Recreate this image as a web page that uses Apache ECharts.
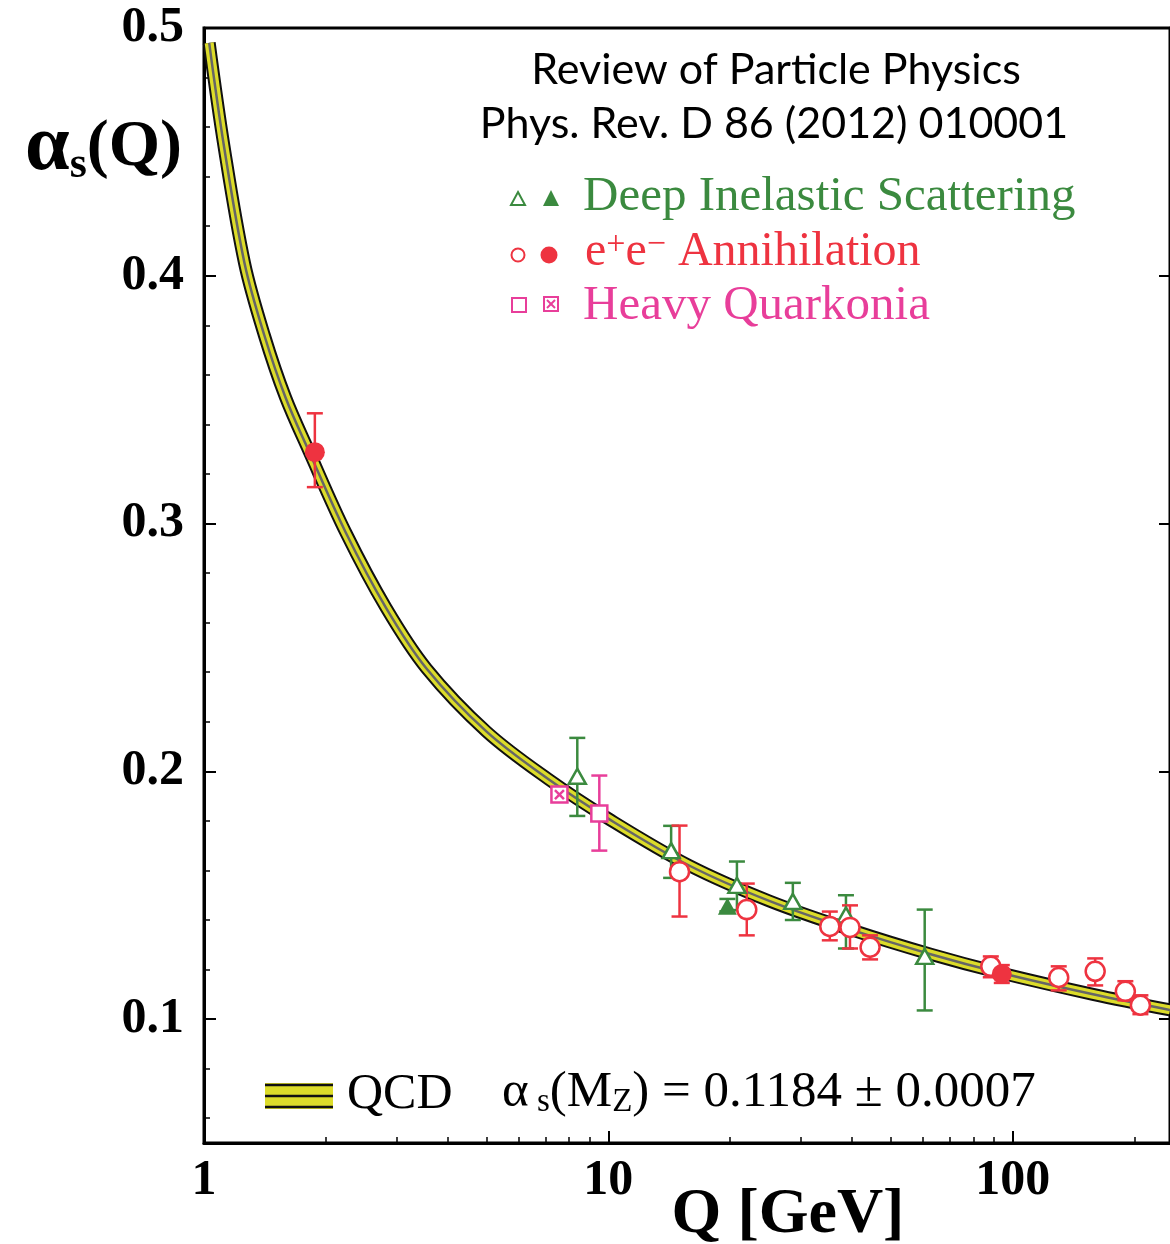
<!DOCTYPE html>
<html lang="en">
<head>
  <meta charset="UTF-8">
  <title>alpha_s running</title>
  <script src="https://cdn.jsdelivr.net/npm/echarts@6/dist/echarts.min.js"></script>
  <style>
    html, body { margin: 0; padding: 0; background: #fff; }
  </style>
</head>
<body>
  <div id="chart" style="width: 1170px; height: 1244px;"></div>
  <script>
    // QCD curve (centre of the band)
    var curveQ = [1.03, 1.12, 1.26, 1.41, 1.59, 1.82, 2.24, 2.82, 3.55, 5.0, 7.1, 10, 15.8, 25, 40, 63, 92, 158, 245];
    var curveAlpha = [0.494, 0.4525, 0.405, 0.376, 0.351, 0.329, 0.2965, 0.266, 0.2415, 0.216, 0.1969, 0.1809, 0.1621, 0.1477, 0.136, 0.1261, 0.1189, 0.110, 0.1037];

    // Deep inelastic scattering
    var disQ = [8.38, 14.3, 20.8, 28.6, 38.7, 60.6];
    var disAlpha = [0.198, 0.168, 0.154, 0.1475, 0.142, 0.1253];
    var disLow = [0.182, 0.157, 0.144, 0.140, 0.1285, 0.1035];
    var disHigh = [0.2135, 0.178, 0.1636, 0.155, 0.150, 0.1442];
    var disFullQ = [19.7];
    var disFullAlpha = [0.1455];
    var disFullLow = [0.1435];
    var disFullHigh = [0.1485];

    // e+e- annihilation
    var eeQ = [15.0, 22.0, 35.3, 39.6, 44.4, 88.3, 130, 160, 190, 207];
    var eeAlpha = [0.1595, 0.1442, 0.1374, 0.137, 0.129, 0.1213, 0.1168, 0.1193, 0.1112, 0.1056];
    var eeLow = [0.1414, 0.1338, 0.1318, 0.1285, 0.1241, 0.1169, 0.1116, 0.1136, 0.1076, 0.1020];
    var eeHigh = [0.1781, 0.1547, 0.1434, 0.1459, 0.1338, 0.1253, 0.1213, 0.1245, 0.1153, 0.1096];
    var eeFullQ = [1.88, 94];
    var eeFullAlpha = [0.3288, 0.1182];
    var eeFullLow = [0.3147, 0.1146];
    var eeFullHigh = [0.3445, 0.1218];

    // Heavy quarkonia
    var hqQ = [9.5];
    var hqAlpha = [0.183];
    var hqLow = [0.168];
    var hqHigh = [0.1983];
    var hqCrossQ = [7.57];
    var hqCrossAlpha = [0.1906];
    var hqCrossLow = [0.1881];
    var hqCrossHigh = [0.1931];

    // ticks
    var xMajorTicks = [1, 10, 100];
    var xMinorTicks = [2, 3, 4, 5, 6, 7, 8, 9, 20, 30, 40, 50, 60, 70, 80, 90, 200];
    var yMajorTicks = [0.1, 0.2, 0.3, 0.4, 0.5];
    var yMinorTicks = [0.06, 0.08, 0.12, 0.14, 0.16, 0.18, 0.22, 0.24, 0.26, 0.28,
                       0.32, 0.34, 0.36, 0.38, 0.42, 0.44, 0.46, 0.48];

    var GREEN = '#3b8a3f';
    var RED = '#ee3340';
    var PINK = '#e83e9a';
    var YELLOW = '#dcdc2a';
    var SERIF = '"Liberation Serif", "Times New Roman", serif';
    var SANS = 'Lato, "Open Sans", sans-serif';

    function pts(q, a) {
      return q.map(function (v, i) { return [v, a[i]]; });
    }
    function bars(q, lo, hi) {
      return q.map(function (v, i) { return [v, lo[i], hi[i]]; });
    }

    // vertical error bar with caps
    function errorBar(color) {
      return function (params, api) {
        var q = api.value(0);
        var lo = api.coord([q, api.value(1)]);
        var hi = api.coord([q, api.value(2)]);
        var half = 8;
        var style = { stroke: color, lineWidth: 2.5 };
        return {
          type: 'group',
          children: [
            { type: 'line', shape: { x1: lo[0], y1: lo[1], x2: hi[0], y2: hi[1] }, style: style },
            { type: 'line', shape: { x1: lo[0] - half, y1: lo[1], x2: lo[0] + half, y2: lo[1] }, style: style },
            { type: 'line', shape: { x1: hi[0] - half, y1: hi[1], x2: hi[0] + half, y2: hi[1] }, style: style }
          ]
        };
      };
    }

    function barSeries(q, lo, hi, color) {
      return {
        type: 'custom',
        renderItem: errorBar(color),
        encode: { x: 0, y: [1, 2] },
        data: bars(q, lo, hi),
        z: 3,
        silent: true
      };
    }

    function curveSeries(color, width, z) {
      return {
        type: 'line',
        data: pts(curveQ, curveAlpha),
        smooth: 0.35,
        showSymbol: false,
        symbol: 'none',
        lineStyle: { color: color, width: width, cap: 'butt', join: 'round' },
        z: z,
        silent: true
      };
    }

    var chart = echarts.init(document.getElementById('chart'));

    var option = {
      animation: false,
      backgroundColor: '#fff',
      grid: {
        left: 204, top: 28, width: 968, height: 1115,
        show: true, borderColor: '#000', borderWidth: 3,
        containLabel: false
      },
      xAxis: [
        {
          type: 'log', logBase: 10, min: 1, max: 245, position: 'bottom',
          axisLine: { lineStyle: { color: '#000', width: 3 } },
          axisTick: { customValues: xMajorTicks, inside: true, length: 12, lineStyle: { color: '#000', width: 2 } },
          axisLabel: {
            customValues: xMajorTicks, margin: 13,
            fontFamily: SERIF, fontWeight: 'bold', fontSize: 50, color: '#000'
          },
          splitLine: { show: false }
        },
        {
          type: 'log', logBase: 10, min: 1, max: 245, position: 'bottom',
          axisLine: { show: false },
          axisTick: { customValues: xMinorTicks, inside: true, length: 6, lineStyle: { color: '#000', width: 1.5 } },
          axisLabel: { show: false },
          splitLine: { show: false }
        }
      ],
      yAxis: [
        {
          type: 'value', min: 0.05, max: 0.5, position: 'left',
          axisLine: { lineStyle: { color: '#000', width: 3 } },
          axisTick: { customValues: yMajorTicks, inside: true, length: 12, lineStyle: { color: '#000', width: 2 } },
          axisLabel: {
            customValues: yMajorTicks, margin: 20,
            formatter: function (v) { return v.toFixed(1); },
            fontFamily: SERIF, fontWeight: 'bold', fontSize: 50, color: '#000'
          },
          splitLine: { show: false }
        },
        {
          type: 'value', min: 0.05, max: 0.5, position: 'left',
          axisLine: { show: false },
          axisTick: { customValues: yMinorTicks, inside: true, length: 6, lineStyle: { color: '#000', width: 1.5 } },
          axisLabel: { show: false },
          splitLine: { show: false }
        },
        {
          type: 'value', min: 0.05, max: 0.5, position: 'right',
          axisLine: { show: true, lineStyle: { color: '#000', width: 3 } },
          axisTick: { customValues: yMajorTicks, inside: true, length: 11, lineStyle: { color: '#000', width: 2 } },
          axisLabel: { show: false },
          splitLine: { show: false }
        }
      ],
      series: [
        curveSeries('#111', 13, 1),
        curveSeries(YELLOW, 9, 1),
        curveSeries('#666', 2.5, 1),

        barSeries(disQ, disLow, disHigh, GREEN),
        barSeries(disFullQ, disFullLow, disFullHigh, GREEN),
        barSeries(hqQ, hqLow, hqHigh, PINK),
        barSeries(hqCrossQ, hqCrossLow, hqCrossHigh, PINK),
        barSeries(eeQ, eeLow, eeHigh, RED),
        barSeries(eeFullQ, eeFullLow, eeFullHigh, RED),

        {
          type: 'scatter', data: pts(disQ, disAlpha), symbol: 'triangle', symbolSize: [17, 15],
          itemStyle: { color: '#fff', borderColor: GREEN, borderWidth: 2.5, opacity: 1 }, z: 4, silent: true
        },
        {
          type: 'scatter', data: pts(disFullQ, disFullAlpha), symbol: 'triangle', symbolSize: [19, 17],
          itemStyle: { color: GREEN, opacity: 1 }, z: 4, silent: true
        },
        {
          type: 'scatter', data: pts(hqQ, hqAlpha), symbol: 'rect', symbolSize: 16,
          itemStyle: { color: '#fff', borderColor: PINK, borderWidth: 2.5, opacity: 1 }, z: 4, silent: true
        },
        {
          type: 'scatter', data: pts(hqCrossQ, hqCrossAlpha), symbol: 'rect', symbolSize: 16,
          itemStyle: { color: '#fff', borderColor: PINK, borderWidth: 2.5, opacity: 1 }, z: 4, silent: true
        },
        {
          type: 'scatter', data: pts(hqCrossQ, hqCrossAlpha), symbol: 'path://M0 0L10 10M10 0L0 10', symbolSize: 9,
          itemStyle: { color: 'none', borderColor: PINK, borderWidth: 2.5, opacity: 1 }, z: 5, silent: true
        },
        {
          type: 'scatter', data: pts(eeQ, eeAlpha), symbol: 'circle', symbolSize: 19,
          itemStyle: { color: '#fff', borderColor: RED, borderWidth: 2.5, opacity: 1 }, z: 4, silent: true
        },
        {
          type: 'scatter', data: pts(eeFullQ, eeFullAlpha), symbol: 'circle', symbolSize: 20,
          itemStyle: { color: RED, opacity: 1 }, z: 4, silent: true
        }
      ],
      graphic: [
        // axis names
        {
          type: 'text', left: 25, top: 108, z: 10,
          style: {
            text: '{a|α}{s|s}{b|(Q)}',
            rich: {
              a: { fontFamily: SERIF, fontWeight: 'bold', fontSize: 80, fill: '#000' },
              s: { fontFamily: SERIF, fontWeight: 'bold', fontSize: 44, fill: '#000', verticalAlign: 'bottom' },
              b: { fontFamily: SERIF, fontWeight: 'bold', fontSize: 66, fill: '#000' }
            }
          }
        },
        {
          type: 'text', x: 788, y: 1215, z: 10,
          style: { text: 'Q [GeV]', font: 'bold 64px ' + SERIF, fill: '#000', align: 'center', verticalAlign: 'middle' }
        },
        // header
        {
          type: 'text', x: 776, y: 70, z: 10,
          style: { text: 'Review of Particle Physics', font: '43px ' + SANS, fill: '#000', align: 'center', verticalAlign: 'middle' }
        },
        {
          type: 'text', x: 774, y: 124, z: 10,
          style: { text: 'Phys. Rev. D 86 (2012) 010001', font: '43px ' + SANS, fill: '#000', align: 'center', verticalAlign: 'middle' }
        },
        // legend: DIS
        {
          type: 'polygon', z: 10,
          shape: { points: [[518, 192], [525, 205], [511, 205]] },
          style: { fill: '#fff', stroke: GREEN, lineWidth: 2 }
        },
        {
          type: 'polygon', z: 10,
          shape: { points: [[551, 190], [559, 206], [543, 206]] },
          style: { fill: GREEN }
        },
        {
          type: 'text', x: 583, y: 197, z: 10,
          style: { text: 'Deep Inelastic Scattering', font: '49px ' + SERIF, fill: GREEN, verticalAlign: 'middle' }
        },
        // legend: e+e-
        {
          type: 'circle', z: 10, shape: { cx: 518, cy: 255, r: 6.5 },
          style: { fill: '#fff', stroke: RED, lineWidth: 2 }
        },
        {
          type: 'circle', z: 10, shape: { cx: 549, cy: 255, r: 8.5 },
          style: { fill: RED }
        },
        {
          type: 'text', x: 585, y: 252, z: 10,
          style: {
            text: '{a|e}{p|+}{a|e}{p|−}{a| Annihilation}',
            verticalAlign: 'middle',
            rich: {
              a: { fontFamily: SERIF, fontSize: 48, fill: RED },
              p: { fontFamily: SERIF, fontSize: 34, fill: RED, verticalAlign: 'top' }
            }
          }
        },
        // legend: heavy quarkonia
        {
          type: 'rect', z: 10, shape: { x: 512, y: 298, width: 14, height: 14 },
          style: { fill: '#fff', stroke: PINK, lineWidth: 2 }
        },
        {
          type: 'rect', z: 10, shape: { x: 544, y: 297, width: 14, height: 14 },
          style: { fill: '#fff', stroke: PINK, lineWidth: 2 }
        },
        {
          type: 'polyline', z: 10, shape: { points: [[547, 300], [555, 308]] },
          style: { stroke: PINK, lineWidth: 2 }
        },
        {
          type: 'polyline', z: 10, shape: { points: [[555, 300], [547, 308]] },
          style: { stroke: PINK, lineWidth: 2 }
        },
        {
          type: 'text', x: 583, y: 306, z: 10,
          style: { text: 'Heavy Quarkonia', font: '49px ' + SERIF, fill: PINK, verticalAlign: 'middle' }
        },
        // QCD band key
        {
          type: 'rect', z: 10, shape: { x: 265, y: 1083, width: 68, height: 26 },
          style: { fill: YELLOW }
        },
        { type: 'polyline', z: 11, shape: { points: [[265, 1085], [333, 1085]] }, style: { stroke: '#111', lineWidth: 2.5 } },
        { type: 'polyline', z: 11, shape: { points: [[265, 1096], [333, 1096]] }, style: { stroke: '#111', lineWidth: 2.5 } },
        { type: 'polyline', z: 11, shape: { points: [[265, 1107], [333, 1107]] }, style: { stroke: '#111', lineWidth: 2.5 } },
        {
          type: 'text', x: 347, y: 1095, z: 10,
          style: { text: 'QCD', font: '50px ' + SERIF, fill: '#000', verticalAlign: 'middle' }
        },
        {
          type: 'text', x: 502, y: 1093, z: 10,
          style: {
            text: '{t|α}{sub| s}{t|(M}{sub|Z}{t|) = 0.1184 ± 0.0007}',
            verticalAlign: 'middle',
            rich: {
              t: { fontFamily: SERIF, fontSize: 51, fill: '#000' },
              sub: { fontFamily: SERIF, fontSize: 33, fill: '#000', verticalAlign: 'bottom' }
            }
          }
        }
      ]
    };

    chart.setOption(option);
  </script>
</body>
</html>
